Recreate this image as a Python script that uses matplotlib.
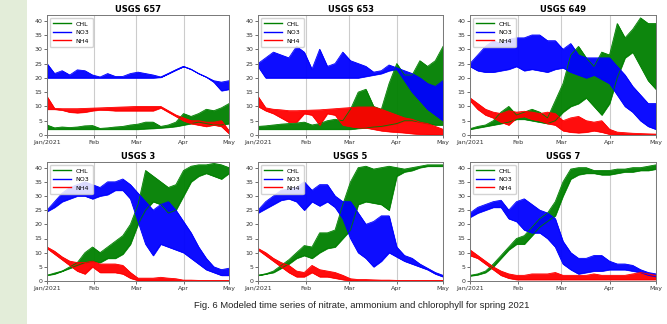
import numpy as np
import matplotlib
matplotlib.use("Agg")
import matplotlib.pyplot as plt
import matplotlib.dates as mdates
from matplotlib.lines import Line2D
from matplotlib.patches import Rectangle

# ---------------- data (envelopes, every 5 days from 2021-01-01) -------------
DAYS = [0, 5, 10, 15, 20, 25, 30, 35, 40, 45, 50, 55, 60, 65, 70, 75, 80, 85, 90, 95, 100, 105, 110, 115, 120]

STATIONS = ["USGS 657", "USGS 653", "USGS 649", "USGS 3", "USGS 5", "USGS 7"]
SERIES = ["CHL", "NO3", "NH4"]

# USGS 657
CHL_657_LO = [2, 2, 2, 2, 2, 2, 2, 2, 2, 2, 2, 2, 2, 2.2, 2.3, 2.5, 2.7, 3, 3.5, 4, 4.5, 4, 3.5, 3.5, 4]
CHL_657_HI = [3.5, 2.5, 2.8, 2.6, 2.8, 3.2, 3.3, 2.3, 2.5, 2.8, 3, 3.5, 3.8, 4.5, 4.5, 3, 3.5, 4.5, 7.5, 6.5, 7.5, 9, 8.5, 9.5, 11]
NO3_657_LO = [20, 20, 20, 20, 20, 20, 20, 20, 20, 20, 20, 20, 20, 20, 20, 20.2, 21.5, 22.8, 24, 23, 21.5, 20.3, 18.5, 15.5, 16]
NO3_657_HI = [25, 21.5, 22.5, 21, 22.8, 22.5, 21, 20.3, 21.5, 20.5, 20.5, 21.5, 22, 21.5, 21, 20.3, 21.5, 22.8, 24, 23, 21.5, 20.3, 19, 18.5, 19]
NH4_657_LO = [9, 9, 8.7, 8, 7.8, 8, 8.5, 8.8, 8.7, 8.5, 8.5, 8.5, 8.5, 8.5, 8.5, 9.5, 8, 6.5, 5, 4, 3.5, 3, 3.5, 3, 0.5]
NH4_657_HI = [13.5, 9.3, 9.2, 9.2, 9.2, 9.3, 9.4, 9.5, 9.6, 9.7, 9.8, 9.9, 10, 10, 10, 10, 8.5, 7, 6, 5, 5, 4.5, 4.5, 5, 1.5]

# USGS 653
CHL_653_LO = [2, 2, 2, 2, 2, 2, 2, 2, 2, 2, 2, 2, 2, 2.3, 2.5, 2.8, 3, 3.5, 4, 5, 5, 4.5, 4, 3.5, 3.5]
CHL_653_HI = [3, 3.2, 3.5, 3.8, 4, 4.2, 4.5, 3.5, 4, 5, 5.5, 5, 9, 15, 16, 10, 9, 18, 25, 21, 21, 26, 24, 26, 31]
NO3_653_LO = [24, 20, 20, 20, 20, 20, 20, 20, 20, 20, 20, 20, 20, 20, 20.5, 21, 21.5, 22.5, 23, 19, 15, 12, 9, 7, 5]
NO3_653_HI = [25, 27, 29, 28, 27, 31, 29, 23, 30, 24, 25, 29, 26, 25, 24, 22, 22.5, 24.5, 23.5, 22.5, 21.5, 20, 18, 17, 19]
NH4_653_LO = [10, 8.5, 7.5, 6, 4.5, 4.5, 7.5, 7, 3.5, 7.5, 7, 3.5, 3, 2.5, 2.5, 2, 1.5, 1.2, 1, 0.8, 0.5, 0.3, 0.2, 0.1, 0]
NH4_653_HI = [13.5, 9.5, 9, 8.8, 8.5, 8.5, 8.6, 8.7, 8.8, 9, 9.2, 9.4, 9.6, 9.8, 9.8, 9.8, 9, 8, 7, 6, 5.5, 4.5, 4, 3, 2]

# USGS 649
CHL_649_LO = [2, 2.5, 3, 3.5, 4, 4.5, 5.5, 5.5, 5, 4.5, 4, 5, 8, 10, 11, 13, 10, 7, 11, 20, 27, 29, 24, 19, 16]
CHL_649_HI = [2.2, 3, 3.5, 5, 8, 10, 7, 8, 9, 8, 6, 12, 18, 28, 31, 27, 24, 29, 28, 39, 34, 37, 41, 39, 39]
NO3_649_LO = [24, 22.5, 22, 22, 22.5, 23, 24, 22.5, 23, 22.5, 22, 23, 23.5, 22, 21, 20, 21, 19.5, 18, 14, 10, 8, 5, 3, 2]
NO3_649_HI = [25, 28, 31, 33, 32, 33.5, 34, 34, 35, 35, 33, 33, 30, 32, 28, 27, 27, 27, 27, 24, 21, 17, 14, 11, 11]
NH4_649_LO = [12, 9, 7, 6, 4.5, 3.5, 6, 6.5, 5.5, 5, 4, 3.5, 1.5, 1, 0.8, 1, 1.5, 1, 0.3, 0.2, 0.1, 0, 0, 0, 0]
NH4_649_HI = [13, 11, 9, 8, 7.5, 8.5, 8, 8.3, 8, 7.5, 8, 7.5, 5, 6, 6.5, 5, 4.5, 5, 2, 1, 0.8, 0.6, 0.5, 0.4, 0.3]

# USGS 3
CHL_3_LO = [2, 2.5, 3.5, 4.5, 5.5, 6.5, 7, 6.5, 8, 8, 9.5, 13, 20, 25, 28, 27, 24, 25, 30, 35, 37, 38, 37, 36, 38]
CHL_3_HI = [2, 2.8, 3.5, 5, 6.5, 10, 12, 10, 12, 14, 16, 20, 27, 39, 37, 35, 33, 34, 39, 40.5, 41, 41, 41.5, 41, 40]
NO3_3_LO = [24.5, 26, 28, 29, 30, 30, 29, 30, 30.5, 32, 32, 29, 21, 13, 9, 13, 12, 11, 10, 8, 6, 4, 3, 2, 2]
NO3_3_HI = [25, 28, 31, 33, 34, 35, 34, 33, 35, 35, 36, 34, 31, 28, 25, 27, 28, 25, 21, 17, 12, 8, 5, 4, 4.5]
NH4_3_LO = [11.5, 9.5, 7.5, 5.5, 3.5, 2.5, 5, 3, 3, 3, 2.5, 1, 0.2, 0.1, 0.1, 0.1, 0.1, 0, 0, 0, 0, 0, 0, 0, 0]
NH4_3_HI = [12, 10.5, 8.5, 7, 6.5, 6.5, 7, 6, 6, 6, 5.5, 3, 1, 1, 1, 1.3, 1, 0.8, 0.3, 0.3, 0.2, 0.2, 0.2, 0.2, 0.2]

# USGS 5
CHL_5_LO = [2, 2.5, 3, 4.5, 6, 8, 9, 8, 10, 11.5, 12, 15, 18, 27, 28, 27.5, 27, 25, 37, 38.5, 39, 40, 40.5, 40.5, 40.5]
CHL_5_HI = [2, 2.5, 3.5, 5.5, 7.5, 10, 12.5, 12, 17, 17, 18, 27, 35, 40, 40.5, 39.5, 40, 40.5, 40, 39.5, 40, 40.5, 41, 41, 41]
NO3_5_LO = [24, 25.5, 27, 28.5, 29, 28, 25, 28, 26.5, 28, 26, 22, 15, 10, 8, 5, 7, 10, 8.5, 7, 6, 5, 4, 2.5, 1.5]
NO3_5_HI = [25, 28, 30, 32, 32.5, 33, 35, 32, 34, 34, 30, 28, 28, 24, 20, 21, 23, 23, 12, 9, 8, 6, 4.5, 3, 2]
NH4_5_LO = [11, 9, 7, 5, 3, 1.5, 1.5, 3, 1.5, 1.5, 1, 0.5, 0.1, 0, 0, 0, 0, 0, 0, 0, 0, 0, 0, 0, 0]
NH4_5_HI = [11.5, 10, 8, 6.5, 5.5, 3.5, 3, 5.5, 4, 3.5, 3, 2, 0.8, 0.5, 0.5, 0.4, 0.3, 0.3, 0.2, 0.2, 0.2, 0.2, 0.2, 0.2, 0.2]

# USGS 7
CHL_7_LO = [1.8, 2.2, 3, 5, 8, 11, 13, 13, 16, 19, 21, 23, 30, 36, 37.5, 38, 38, 37.5, 37.5, 38, 38.5, 38.5, 39, 39, 39.5]
CHL_7_HI = [2, 2.5, 3.5, 6, 9, 12, 15, 16, 19, 22, 24, 28, 35, 39.5, 40, 40, 39, 39, 39, 39.5, 39.5, 40, 40, 40.5, 41]
NO3_7_LO = [22.5, 24, 25, 26, 26, 22, 21, 18, 17, 17, 15, 12, 6, 4, 2.5, 3, 3.5, 3.5, 4, 4, 4, 3.5, 3, 2, 1.5]
NO3_7_HI = [24, 26, 27, 28, 28.5, 25, 28, 29, 27, 25, 24, 22, 14, 10, 8, 8, 9, 9, 7, 6, 6, 5.5, 4, 3, 2.5]
NH4_7_LO = [9, 8, 6, 4, 2, 1, 0.5, 0.5, 0.5, 0.5, 0.5, 0.5, 0.5, 0.5, 0.5, 0.5, 0.5, 0.5, 0.5, 0.5, 0.5, 0.5, 0.5, 0.5, 0.5]
NH4_7_HI = [11, 9, 7, 5, 3.5, 2.5, 2, 2, 2.5, 2.5, 2.5, 3, 2, 2, 2, 2, 2.5, 2, 2, 2, 2, 2.5, 3, 2.5, 2]

TICK_DATES = ["2021-01-01", "2021-02-01", "2021-03-01", "2021-04-01", "2021-05-01"]
TICK_LABELS = ["Jan/2021", "Feb", "Mar", "Apr", "May"]
CAPTION = "Fig. 6 Modeled time series of nitrate, ammonium and chlorophyll for spring 2021"

# --------------------------------------------------------------------------------------------
ENVELOPES = {
    "USGS 657": [(CHL_657_LO, CHL_657_HI), (NO3_657_LO, NO3_657_HI), (NH4_657_LO, NH4_657_HI)],
    "USGS 653": [(CHL_653_LO, CHL_653_HI), (NO3_653_LO, NO3_653_HI), (NH4_653_LO, NH4_653_HI)],
    "USGS 649": [(CHL_649_LO, CHL_649_HI), (NO3_649_LO, NO3_649_HI), (NH4_649_LO, NH4_649_HI)],
    "USGS 3": [(CHL_3_LO, CHL_3_HI), (NO3_3_LO, NO3_3_HI), (NH4_3_LO, NH4_3_HI)],
    "USGS 5": [(CHL_5_LO, CHL_5_HI), (NO3_5_LO, NO3_5_HI), (NH4_5_LO, NH4_5_HI)],
    "USGS 7": [(CHL_7_LO, CHL_7_HI), (NO3_7_LO, NO3_7_HI), (NH4_7_LO, NH4_7_HI)],
}
COLORS = ["#008000", "#0000ff", "#ff0000"]

plt.rcParams["font.family"] = ["DejaVu Sans"]

W, H = 667, 324
fig = plt.figure(figsize=(W / 100, H / 100), dpi=100)
fig.patches.append(Rectangle((0, 0), 27 / W, 1, transform=fig.transFigure,
                             facecolor="#e3edd9", edgecolor="none", zorder=-10))

base = np.datetime64("2021-01-01")
xdates = base + np.array(DAYS).astype("timedelta64[D]")
ticks = np.array(TICK_DATES, dtype="datetime64[D]")

cols = [(47, 229), (258, 443), (470, 656)]
rows = [(15, 135), (162, 281)]

for i, name in enumerate(STATIONS):
    r, c = divmod(i, 3)
    x0, x1 = cols[c]
    y0, y1 = rows[r]
    ax = fig.add_axes([x0 / W, 1 - y1 / H, (x1 - x0) / W, (y1 - y0) / H])
    for (lo, hi), col in zip(ENVELOPES[name], COLORS):
        ax.fill_between(xdates, lo, hi, color=col, lw=0.5, alpha=0.95)
        ax.plot(xdates, lo, color=col, lw=0.6)
        ax.plot(xdates, hi, color=col, lw=0.6)
    ax.set_xlim(ticks[0], ticks[-1])
    ax.set_ylim(0, 42)
    ax.set_yticks(np.arange(0, 41, 5))
    ax.set_xticks(ticks)
    ax.set_xticklabels(TICK_LABELS)
    ax.grid(axis="x", color="#cccccc", lw=0.8)
    ax.set_axisbelow(True)
    ax.tick_params(labelsize=4.5, length=2, width=0.5, pad=1.5, colors="#333333")
    for s in ax.spines.values():
        s.set_color("#777777")
        s.set_linewidth(0.7)
    ax.set_title(name, fontsize=6, fontweight="bold", pad=2.5)
    handles = [Line2D([0], [0], color=cc, lw=1) for cc in COLORS]
    ax.legend(handles, SERIES, loc="upper left", fontsize=4.5, handlelength=2.8,
              borderpad=0.5, labelspacing=0.5, handletextpad=0.8, framealpha=0.85,
              edgecolor="#cccccc")

fig.text(362 / W, 1 - 305 / H, CAPTION, ha="center", va="center",
         fontsize=6.8, family=["Liberation Sans", "DejaVu Sans"], color="#222222")

fig.savefig("out.png", dpi=100)
